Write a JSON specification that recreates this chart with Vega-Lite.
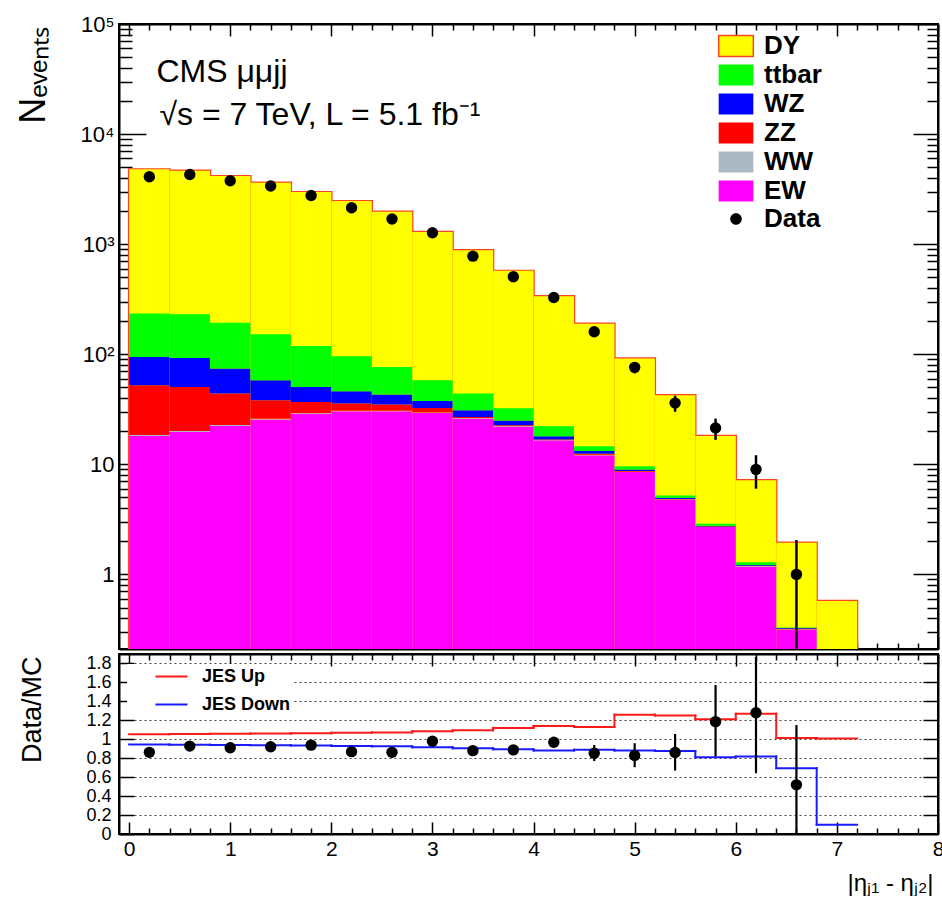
{
  "$schema": "https://vega.github.io/schema/vega-lite/v6.json",
  "background": "white",
  "padding": {"left": 14, "top": 12, "right": 0, "bottom": 0},
  "spacing": 1,
  "datasets": {
    "mc": [
      {"lo":0,"hi":0.4,"process":"EW","n":18.1},{"lo":0,"hi":0.4,"process":"WW","n":0.4},{"lo":0,"hi":0.4,"process":"ZZ","n":33.8},{"lo":0,"hi":0.4,"process":"WZ","n":42.2},{"lo":0,"hi":0.4,"process":"ttbar","n":139.5},{"lo":0,"hi":0.4,"process":"DY","n":4546},
      {"lo":0.4,"hi":0.8,"process":"EW","n":19.7},{"lo":0.4,"hi":0.8,"process":"WW","n":0.4},{"lo":0.4,"hi":0.8,"process":"ZZ","n":30.3},{"lo":0.4,"hi":0.8,"process":"WZ","n":42.1},{"lo":0.4,"hi":0.8,"process":"ttbar","n":138.5},{"lo":0.4,"hi":0.8,"process":"DY","n":4409},
      {"lo":0.8,"hi":1.2,"process":"EW","n":22.3},{"lo":0.8,"hi":1.2,"process":"WW","n":0.4},{"lo":0.8,"hi":1.2,"process":"ZZ","n":21.2},{"lo":0.8,"hi":1.2,"process":"WZ","n":30.2},{"lo":0.8,"hi":1.2,"process":"ttbar","n":118.9},{"lo":0.8,"hi":1.2,"process":"DY","n":3957},
      {"lo":1.2,"hi":1.6,"process":"EW","n":25.5},{"lo":1.2,"hi":1.6,"process":"WW","n":0.4},{"lo":1.2,"hi":1.6,"process":"ZZ","n":12.3},{"lo":1.2,"hi":1.6,"process":"WZ","n":19.8},{"lo":1.2,"hi":1.6,"process":"ttbar","n":94},{"lo":1.2,"hi":1.6,"process":"DY","n":3458},
      {"lo":1.6,"hi":2.0,"process":"EW","n":28.9},{"lo":1.6,"hi":2.0,"process":"WW","n":0.4},{"lo":1.6,"hi":2.0,"process":"ZZ","n":7.5},{"lo":1.6,"hi":2.0,"process":"WZ","n":13.6},{"lo":1.6,"hi":2.0,"process":"ttbar","n":68.6},{"lo":1.6,"hi":2.0,"process":"DY","n":2851},
      {"lo":2.0,"hi":2.4,"process":"EW","n":30.3},{"lo":2.0,"hi":2.4,"process":"WW","n":0.4},{"lo":2.0,"hi":2.4,"process":"ZZ","n":4.9},{"lo":2.0,"hi":2.4,"process":"WZ","n":10.5},{"lo":2.0,"hi":2.4,"process":"ttbar","n":49.9},{"lo":2.0,"hi":2.4,"process":"DY","n":2364},
      {"lo":2.4,"hi":2.8,"process":"EW","n":30.3},{"lo":2.4,"hi":2.8,"process":"WW","n":0.4},{"lo":2.4,"hi":2.8,"process":"ZZ","n":4.2},{"lo":2.4,"hi":2.8,"process":"WZ","n":8.1},{"lo":2.4,"hi":2.8,"process":"ttbar","n":33.7},{"lo":2.4,"hi":2.8,"process":"DY","n":1893},
      {"lo":2.8,"hi":3.2,"process":"EW","n":29.2},{"lo":2.8,"hi":3.2,"process":"WW","n":0.3},{"lo":2.8,"hi":3.2,"process":"ZZ","n":3.0},{"lo":2.8,"hi":3.2,"process":"WZ","n":5.0},{"lo":2.8,"hi":3.2,"process":"ttbar","n":20.5},{"lo":2.8,"hi":3.2,"process":"DY","n":1232},
      {"lo":3.2,"hi":3.6,"process":"EW","n":26.1},{"lo":3.2,"hi":3.6,"process":"WW","n":0.2},{"lo":3.2,"hi":3.6,"process":"ZZ","n":0.6},{"lo":3.2,"hi":3.6,"process":"WZ","n":4.1},{"lo":3.2,"hi":3.6,"process":"ttbar","n":13},{"lo":3.2,"hi":3.6,"process":"DY","n":838},
      {"lo":3.6,"hi":4.0,"process":"EW","n":22.1},{"lo":3.6,"hi":4.0,"process":"WW","n":0.15},{"lo":3.6,"hi":4.0,"process":"ZZ","n":0.35},{"lo":3.6,"hi":4.0,"process":"WZ","n":2.4},{"lo":3.6,"hi":4.0,"process":"ttbar","n":7.3},{"lo":3.6,"hi":4.0,"process":"DY","n":540},
      {"lo":4.0,"hi":4.4,"process":"EW","n":16.5},{"lo":4.0,"hi":4.4,"process":"WW","n":0.1},{"lo":4.0,"hi":4.4,"process":"ZZ","n":0.2},{"lo":4.0,"hi":4.4,"process":"WZ","n":1.2},{"lo":4.0,"hi":4.4,"process":"ttbar","n":4.2},{"lo":4.0,"hi":4.4,"process":"DY","n":315},
      {"lo":4.4,"hi":4.8,"process":"EW","n":12.1},{"lo":4.4,"hi":4.8,"process":"WW","n":0.1},{"lo":4.4,"hi":4.8,"process":"ZZ","n":0.3},{"lo":4.4,"hi":4.8,"process":"WZ","n":0.7},{"lo":4.4,"hi":4.8,"process":"ttbar","n":1.4},{"lo":4.4,"hi":4.8,"process":"DY","n":175},
      {"lo":4.8,"hi":5.2,"process":"EW","n":8.5},{"lo":4.8,"hi":5.2,"process":"WW","n":0.05},{"lo":4.8,"hi":5.2,"process":"ZZ","n":0.15},{"lo":4.8,"hi":5.2,"process":"WZ","n":0.25},{"lo":4.8,"hi":5.2,"process":"ttbar","n":0.65},{"lo":4.8,"hi":5.2,"process":"DY","n":81.8},
      {"lo":5.2,"hi":5.6,"process":"EW","n":4.78},{"lo":5.2,"hi":5.6,"process":"WW","n":0.03},{"lo":5.2,"hi":5.6,"process":"ZZ","n":0.04},{"lo":5.2,"hi":5.6,"process":"WZ","n":0.13},{"lo":5.2,"hi":5.6,"process":"ttbar","n":0.22},{"lo":5.2,"hi":5.6,"process":"DY","n":37.2},
      {"lo":5.6,"hi":6.0,"process":"EW","n":2.69},{"lo":5.6,"hi":6.0,"process":"WW","n":0.01},{"lo":5.6,"hi":6.0,"process":"ZZ","n":0.02},{"lo":5.6,"hi":6.0,"process":"WZ","n":0.05},{"lo":5.6,"hi":6.0,"process":"ttbar","n":0.12},{"lo":5.6,"hi":6.0,"process":"DY","n":15.2},
      {"lo":6.0,"hi":6.4,"process":"EW","n":1.18},{"lo":6.0,"hi":6.4,"process":"WW","n":0.01},{"lo":6.0,"hi":6.4,"process":"ZZ","n":0.01},{"lo":6.0,"hi":6.4,"process":"WZ","n":0.02},{"lo":6.0,"hi":6.4,"process":"ttbar","n":0.07},{"lo":6.0,"hi":6.4,"process":"DY","n":5.87},
      {"lo":6.4,"hi":6.8,"process":"EW","n":0.316},{"lo":6.4,"hi":6.8,"process":"WW","n":0.002},{"lo":6.4,"hi":6.8,"process":"ZZ","n":0.002},{"lo":6.4,"hi":6.8,"process":"WZ","n":0.005},{"lo":6.4,"hi":6.8,"process":"ttbar","n":0.005},{"lo":6.4,"hi":6.8,"process":"DY","n":1.61},
      {"lo":6.8,"hi":7.2,"process":"EW","n":0.08},{"lo":6.8,"hi":7.2,"process":"WW","n":0.001},{"lo":6.8,"hi":7.2,"process":"ZZ","n":0.001},{"lo":6.8,"hi":7.2,"process":"WZ","n":0.002},{"lo":6.8,"hi":7.2,"process":"ttbar","n":0.006},{"lo":6.8,"hi":7.2,"process":"DY","n":0.483}
    ],
    "pts": [
      {"c":0.2,"n":4090,"nlo":4026,"nhi":4154,"r":0.862,"rlo":0.845,"rhi":0.879},
      {"c":0.6,"n":4300,"nlo":4234,"nhi":4366,"r":0.928,"rlo":0.91,"rhi":0.946},
      {"c":1.0,"n":3770,"nlo":3709,"nhi":3831,"r":0.91,"rlo":0.891,"rhi":0.929},
      {"c":1.4,"n":3370,"nlo":3312,"nhi":3428,"r":0.921,"rlo":0.9,"rhi":0.942},
      {"c":1.8,"n":2770,"nlo":2717,"nhi":2823,"r":0.938,"rlo":0.915,"rhi":0.961},
      {"c":2.2,"n":2140,"nlo":2094,"nhi":2186,"r":0.869,"rlo":0.844,"rhi":0.894},
      {"c":2.6,"n":1690,"nlo":1649,"nhi":1731,"r":0.862,"rlo":0.835,"rhi":0.889},
      {"c":3.0,"n":1268,"nlo":1232,"nhi":1304,"r":0.979,"rlo":0.948,"rhi":1.01},
      {"c":3.4,"n":778,"nlo":750,"nhi":806,"r":0.88,"rlo":0.848,"rhi":0.912},
      {"c":3.8,"n":505,"nlo":483,"nhi":527,"r":0.888,"rlo":0.848,"rhi":0.928},
      {"c":4.2,"n":328,"nlo":310,"nhi":346,"r":0.968,"rlo":0.915,"rhi":1.021},
      {"c":4.6,"n":160,"nlo":147,"nhi":173,"r":0.853,"rlo":0.77,"rhi":0.94},
      {"c":5.0,"n":76,"nlo":67,"nhi":85,"r":0.828,"rlo":0.705,"rhi":0.958},
      {"c":5.4,"n":36,"nlo":30,"nhi":42,"r":0.86,"rlo":0.67,"rhi":1.056},
      {"c":5.8,"n":21.4,"nlo":16.7,"nhi":26,"r":1.186,"rlo":0.818,"rhi":1.572},
      {"c":6.2,"n":9,"nlo":6,"nhi":12.1,"r":1.28,"rlo":0.642,"rhi":1.87},
      {"c":6.6,"n":1,"nlo":0,"nhi":2.05,"r":0.519,"rlo":0,"rhi":1.15}
    ],
    "jes": [
      {"lo":0,"hi":0.4,"variation":"JES Up","r":1.053},{"lo":0.4,"hi":0.8,"variation":"JES Up","r":1.055},{"lo":0.8,"hi":1.2,"variation":"JES Up","r":1.058},{"lo":1.2,"hi":1.6,"variation":"JES Up","r":1.06},{"lo":1.6,"hi":2.0,"variation":"JES Up","r":1.063},{"lo":2.0,"hi":2.4,"variation":"JES Up","r":1.07},{"lo":2.4,"hi":2.8,"variation":"JES Up","r":1.072},{"lo":2.8,"hi":3.2,"variation":"JES Up","r":1.085},{"lo":3.2,"hi":3.6,"variation":"JES Up","r":1.095},{"lo":3.6,"hi":4.0,"variation":"JES Up","r":1.12},{"lo":4.0,"hi":4.4,"variation":"JES Up","r":1.14},{"lo":4.4,"hi":4.8,"variation":"JES Up","r":1.13},{"lo":4.8,"hi":5.2,"variation":"JES Up","r":1.26},{"lo":5.2,"hi":5.6,"variation":"JES Up","r":1.25},{"lo":5.6,"hi":6.0,"variation":"JES Up","r":1.21},{"lo":6.0,"hi":6.4,"variation":"JES Up","r":1.27},{"lo":6.4,"hi":6.8,"variation":"JES Up","r":1.014},{"lo":6.8,"hi":7.2,"variation":"JES Up","r":1.007},
      {"lo":0,"hi":0.4,"variation":"JES Down","r":0.944},{"lo":0.4,"hi":0.8,"variation":"JES Down","r":0.942},{"lo":0.8,"hi":1.2,"variation":"JES Down","r":0.94},{"lo":1.2,"hi":1.6,"variation":"JES Down","r":0.938},{"lo":1.6,"hi":2.0,"variation":"JES Down","r":0.935},{"lo":2.0,"hi":2.4,"variation":"JES Down","r":0.93},{"lo":2.4,"hi":2.8,"variation":"JES Down","r":0.925},{"lo":2.8,"hi":3.2,"variation":"JES Down","r":0.915},{"lo":3.2,"hi":3.6,"variation":"JES Down","r":0.905},{"lo":3.6,"hi":4.0,"variation":"JES Down","r":0.895},{"lo":4.0,"hi":4.4,"variation":"JES Down","r":0.881},{"lo":4.4,"hi":4.8,"variation":"JES Down","r":0.888},{"lo":4.8,"hi":5.2,"variation":"JES Down","r":0.881},{"lo":5.2,"hi":5.6,"variation":"JES Down","r":0.877},{"lo":5.6,"hi":6.0,"variation":"JES Down","r":0.81},{"lo":6.0,"hi":6.4,"variation":"JES Down","r":0.818},{"lo":6.4,"hi":6.8,"variation":"JES Down","r":0.695},{"lo":6.8,"hi":7.2,"variation":"JES Down","r":0.098}
    ]
  },
  "vconcat": [
    {
      "width": 819,
      "height": 625,
      "resolve": {"axis": {"x": "independent", "y": "independent"}},
      "layer": [
        {
          "data": {"name": "mc"},
          "transform": [
            {"calculate": "indexof(['EW','WW','ZZ','WZ','ttbar','DY'], datum.process)", "as": "ord"},
            {"stack": "n", "groupby": ["lo"], "sort": [{"field": "ord", "order": "ascending"}], "as": ["n0", "n1"]},
            {"filter": "datum.process === 'DY'"}
          ],
          "mark": {"type": "rect", "fill": "white", "fillOpacity": 0, "stroke": "#ff4422", "strokeWidth": 2.4, "clip": true},
          "encoding": {
            "x": {"field": "lo", "type": "quantitative", "scale": {"domain": [-0.1, 8], "nice": false, "zero": false},
              "axis": {"orient": "bottom", "title": null, "labels": false, "values": [0,0.2,0.4,0.6,0.8,1,1.2,1.4,1.6,1.8,2,2.2,2.4,2.6,2.8,3,3.2,3.4,3.6,3.8,4,4.2,4.4,4.6,4.8,5,5.2,5.4,5.6,5.8,6,6.2,6.4,6.6,6.8,7,7.2,7.4,7.6,7.8,8],
                "tickSize": {"condition": {"test": "datum.value % 1 === 0", "value": -12}, "value": -6}, "zindex": 0}},
            "x2": {"field": "hi"},
            "y": {"field": "n1", "type": "quantitative", "scale": {"type": "log", "domain": [0.21, 100000], "nice": false, "clamp": true},
              "axis": {"orient": "left", "values": [0.3,0.4,0.5,0.6,0.7,0.8,0.9,1,2,3,4,5,6,7,8,9,10,20,30,40,50,60,70,80,90,100,200,300,400,500,600,700,800,900,1000,2000,3000,4000,5000,6000,7000,8000,9000,10000,20000,30000,40000,50000,60000,70000,80000,90000,100000],
                "labelExpr": "datum.value === 100000 ? '10⁵' : datum.value === 10000 ? '10⁴' : datum.value === 1000 ? '10³' : datum.value === 100 ? '10²' : datum.value === 10 ? '10' : datum.value === 1 ? '1' : ''",
                "labelFontSize": 22, "labelPadding": 32, "labelOverlap": false,
                "tickSize": {"condition": {"test": "indexof([1,10,100,1000,10000,100000], datum.value) >= 0", "value": -27}, "value": -13},
                "title": "Nₑᵥₑₙₜₛ", "titleFontSize": 36, "titleX": -75, "titleY": 2, "titleAlign": "right", "titleAngle": 270, "titleBaseline": "alphabetic", "zindex": 0}},
            "y2": {"datum": 0.001}
          }
        },
        {
          "data": {"name": "mc"},
          "transform": [
            {"calculate": "indexof(['EW','WW','ZZ','WZ','ttbar','DY'], datum.process)", "as": "ord"},
            {"stack": "n", "groupby": ["lo"], "sort": [{"field": "ord", "order": "ascending"}], "as": ["n0", "n1"]},
            {"filter": "datum.process === 'DY'"}
          ],
          "mark": {"type": "rect", "clip": true},
          "encoding": {
            "x": {"field": "lo", "type": "quantitative",
              "axis": {"orient": "top", "title": null, "labels": false, "values": [0,0.2,0.4,0.6,0.8,1,1.2,1.4,1.6,1.8,2,2.2,2.4,2.6,2.8,3,3.2,3.4,3.6,3.8,4,4.2,4.4,4.6,4.8,5,5.2,5.4,5.6,5.8,6,6.2,6.4,6.6,6.8,7,7.2,7.4,7.6,7.8,8],
                "tickSize": {"condition": {"test": "datum.value % 1 === 0", "value": -12}, "value": -6}, "zindex": 1}},
            "x2": {"field": "hi"},
            "y": {"field": "n1", "type": "quantitative",
              "axis": {"orient": "right", "title": null, "labels": false, "values": [0.3,0.4,0.5,0.6,0.7,0.8,0.9,1,2,3,4,5,6,7,8,9,10,20,30,40,50,60,70,80,90,100,200,300,400,500,600,700,800,900,1000,2000,3000,4000,5000,6000,7000,8000,9000,10000,20000,30000,40000,50000,60000,70000,80000,90000,100000],
                "tickSize": {"condition": {"test": "indexof([1,10,100,1000,10000,100000], datum.value) >= 0", "value": -25}, "value": -11}, "zindex": 1}},
            "y2": {"datum": 0.001},
            "color": {"field": "process", "type": "nominal",
              "scale": {"domain": ["DY","ttbar","WZ","ZZ","WW","EW","Data"], "range": ["#ffff00","#00ff00","#0000ff","#ff0000","#aab8c4","#ff00ff","#000000"]},
              "legend": {"title": null, "orient": "none", "legendX": 604, "legendY": 9, "padding": 0,
                "symbolType": "M-1.65,-1H1.65V1H-1.65Z", "symbolSize": 441, "symbolOpacity": 1,
                "labelFontSize": 26, "labelFontWeight": "bold", "labelOffset": 15, "rowPadding": 1,
                "encode": {"symbols": {"update": {
                  "shape": {"signal": "datum.label === 'Data' ? 'M0,-0.55A0.55,0.55,0,1,1,0,0.55A0.55,0.55,0,1,1,0,-0.55Z' : 'M-1.65,-1H1.65V1H-1.65Z'"},
                  "stroke": {"signal": "datum.label === 'DY' ? '#ff4422' : 'transparent'"},
                  "strokeWidth": {"value": 1.5},
                  "opacity": {"value": 1}
                }}}}}
          }
        },
        {
          "data": {"name": "mc"},
          "transform": [
            {"calculate": "indexof(['EW','WW','ZZ','WZ','ttbar','DY'], datum.process)", "as": "ord"},
            {"stack": "n", "groupby": ["lo"], "sort": [{"field": "ord", "order": "ascending"}], "as": ["n0", "n1"]},
            {"filter": "datum.process !== 'DY'"}
          ],
          "mark": {"type": "rect", "clip": true},
          "encoding": {
            "x": {"field": "lo", "type": "quantitative", "axis": null},
            "x2": {"field": "hi"},
            "y": {"field": "n1", "type": "quantitative", "axis": null},
            "y2": {"field": "n0"},
            "color": {"field": "process", "type": "nominal",
              "scale": {"domain": ["DY","ttbar","WZ","ZZ","WW","EW","Data"], "range": ["#ffff00","#00ff00","#0000ff","#ff0000","#aab8c4","#ff00ff","#000000"]}}
          }
        },
        {
          "data": {"name": "pts"},
          "mark": {"type": "rule", "color": "black", "strokeWidth": 2.5, "clip": true},
          "encoding": {
            "x": {"field": "c", "type": "quantitative", "axis": null},
            "y": {"field": "nlo", "type": "quantitative", "axis": null},
            "y2": {"field": "nhi"}
          }
        },
        {
          "data": {"name": "pts"},
          "mark": {"type": "point", "filled": true, "size": 130, "opacity": 1, "strokeWidth": 0},
          "encoding": {
            "x": {"field": "c", "type": "quantitative", "axis": null},
            "y": {"field": "n", "type": "quantitative", "axis": null},
            "color": {"datum": "Data", "type": "nominal",
              "scale": {"domain": ["DY","ttbar","WZ","ZZ","WW","EW","Data"], "range": ["#ffff00","#00ff00","#0000ff","#ff0000","#aab8c4","#ff00ff","#000000"]}}
          }
        },
        {
          "data": {"values": [{}]},
          "mark": {"type": "text", "align": "left", "baseline": "alphabetic", "fontSize": 32, "font": "Liberation Sans", "color": "black"},
          "encoding": {
            "x": {"datum": 0.27, "type": "quantitative", "axis": null},
            "y": {"datum": 29900, "type": "quantitative", "axis": null},
            "text": {"value": "CMS  μμjj"}
          }
        },
        {
          "data": {"values": [{}]},
          "mark": {"type": "text", "align": "left", "baseline": "alphabetic", "fontSize": 32, "font": "Liberation Sans", "color": "black"},
          "encoding": {
            "x": {"datum": 0.3, "type": "quantitative", "axis": null},
            "y": {"datum": 12070, "type": "quantitative", "axis": null},
            "text": {"value": "√s = 7 TeV, L = 5.1 fb⁻¹"}
          }
        }
      ]
    },
    {
      "width": 819,
      "height": 180,
      "resolve": {"axis": {"x": "independent", "y": "independent"}},
      "layer": [
        {
          "data": {"name": "jes"},
          "mark": {"type": "rule", "strokeWidth": 2, "strokeCap": "square"},
          "encoding": {
            "x": {"field": "lo", "type": "quantitative", "scale": {"domain": [-0.1, 8], "nice": false, "zero": false},
              "axis": {"orient": "bottom", "values": [0,0.2,0.4,0.6,0.8,1,1.2,1.4,1.6,1.8,2,2.2,2.4,2.6,2.8,3,3.2,3.4,3.6,3.8,4,4.2,4.4,4.6,4.8,5,5.2,5.4,5.6,5.8,6,6.2,6.4,6.6,6.8,7,7.2,7.4,7.6,7.8,8],
                "labelExpr": "datum.value % 1 === 0 ? format(datum.value, 'd') : ''", "labelOverlap": false, "labelFlush": false,
                "labelFontSize": 21, "labelPadding": 16, "labelBaseline": "top",
                "tickSize": {"condition": {"test": "datum.value % 1 === 0", "value": -12}, "value": -6},
                "title": "|ηⱼ₁ - ηⱼ₂|", "titleFontSize": 24, "titleX": 814, "titleY": 37, "titleAlign": "right", "titleBaseline": "top", "titleAngle": 0, "zindex": 0}},
            "x2": {"field": "hi"},
            "y": {"field": "r", "type": "quantitative", "scale": {"domain": [0, 1.9], "nice": false, "zero": false},
              "axis": {"orient": "left", "values": [0,0.2,0.4,0.6,0.8,1,1.2,1.4,1.6,1.8], "format": "~g", "labelOverlap": false,
                "labelFontSize": 18, "labelPadding": 23, "tickSize": -15,
                "grid": true, "gridDash": [2, 3], "gridColor": "#444444", "gridWidth": 1.2,
                "title": "Data/MC", "titleFontSize": 27, "titleX": -79, "titleY": 2, "titleAlign": "right", "titleAngle": 270, "titleBaseline": "alphabetic", "zindex": 0}},
            "stroke": {"field": "variation", "type": "nominal",
              "scale": {"domain": ["JES Up", "JES Down"], "range": ["#ff1a1a", "#1a1aff"]},
              "legend": {"title": null, "orient": "none", "legendX": 8, "legendY": 640, "padding": 1, "fillColor": "white", "zindex": 1,
                "symbolType": "M-1.6,0H1.6", "symbolSize": 400, "symbolStrokeWidth": 2.2, "symbolOffset": 32,
                "labelFontSize": 18, "labelFontWeight": "bold", "labelOffset": 19, "rowPadding": 7,
                "labelExpr": "datum.label + '\u00a0\u00a0\u00a0\u00a0\u00a0\u00a0\u00a0\u00a0\u00a0\u00a0\u00a0\u00a0\u00a0\u00a0\u00a0\u00a0\u00a0\u00a0'"}}
          }
        },
        {
          "data": {"name": "jes"},
          "transform": [
            {"window": [{"op": "lead", "field": "r", "as": "next"}], "groupby": ["variation"], "sort": [{"field": "lo", "order": "ascending"}]},
            {"filter": "datum.next != null"}
          ],
          "mark": {"type": "rule", "strokeWidth": 2, "strokeCap": "square"},
          "encoding": {
            "x": {"field": "hi", "type": "quantitative",
              "axis": {"orient": "top", "title": null, "labels": false, "values": [0,0.2,0.4,0.6,0.8,1,1.2,1.4,1.6,1.8,2,2.2,2.4,2.6,2.8,3,3.2,3.4,3.6,3.8,4,4.2,4.4,4.6,4.8,5,5.2,5.4,5.6,5.8,6,6.2,6.4,6.6,6.8,7,7.2,7.4,7.6,7.8,8],
                "tickSize": {"condition": {"test": "datum.value % 1 === 0", "value": -12}, "value": -6}, "zindex": 1}},
            "y": {"field": "r", "type": "quantitative",
              "axis": {"orient": "right", "title": null, "labels": false, "values": [0.2,0.4,0.6,0.8,1,1.2,1.4,1.6,1.8], "tickSize": -15, "zindex": 1}},
            "y2": {"field": "next"},
            "stroke": {"field": "variation", "type": "nominal",
              "scale": {"domain": ["JES Up", "JES Down"], "range": ["#ff1a1a", "#1a1aff"]}}
          }
        },
        {
          "data": {"name": "pts"},
          "mark": {"type": "rule", "color": "black", "strokeWidth": 2.2, "clip": true},
          "encoding": {
            "x": {"field": "c", "type": "quantitative", "axis": null},
            "y": {"field": "rlo", "type": "quantitative", "axis": null},
            "y2": {"field": "rhi"}
          }
        },
        {
          "data": {"name": "pts"},
          "mark": {"type": "point", "filled": true, "size": 130, "opacity": 1, "color": "black", "strokeWidth": 0},
          "encoding": {
            "x": {"field": "c", "type": "quantitative", "axis": null},
            "y": {"field": "r", "type": "quantitative", "axis": null}
          }
        }
      ]
    }
  ],
  "config": {
    "font": "Liberation Sans",
    "view": {"stroke": "black", "strokeWidth": 2},
    "axis": {"domainColor": "black", "domainWidth": 2, "tickColor": "black", "tickWidth": 1.5, "labelColor": "black", "titleColor": "black", "titleFontWeight": "normal", "labelFont": "Liberation Sans", "titleFont": "Liberation Sans", "grid": false, "labelOverlap": false, "labelFlush": false, "labelBound": false},
    "legend": {"labelFont": "Liberation Sans", "labelColor": "black"}
  }
}
